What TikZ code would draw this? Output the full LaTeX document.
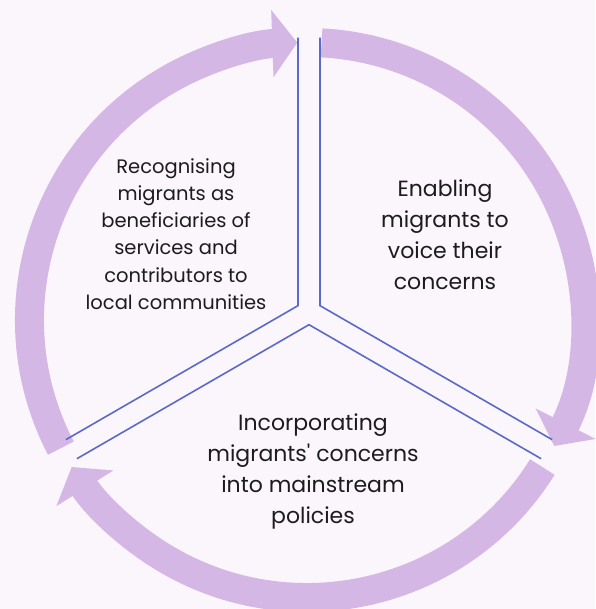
\documentclass[tikz,border=0pt]{standalone}
\usepackage{fontspec}
\newfontfamily\stagefont{Poppins}[Ligatures=NoCommon]
\usetikzlibrary{arrows.meta,calc}
\definecolor{bgpink}{HTML}{FBF5FC}
\definecolor{lilac}{HTML}{D4B7E5}
\definecolor{divblue}{HTML}{5A6AC8}
\definecolor{inkgrey}{HTML}{1C1C1C}

\begin{document}
\begin{tikzpicture}[x=1pt,y=1pt,
    ring/.style={line width=29pt,lilac},
    ringtip/.style={-{Triangle[width=66pt,length=25pt]}},
    divider/.style={divblue,line width=1.6pt,line join=miter},
    stagetext/.style={align=center,text=inkgrey,inner sep=0pt}]
  \fill[bgpink] (0,0) rectangle (595,609);
  \useasboundingbox (0,0) rectangle (595,609);
  \coordinate (O) at (307,289);
  \coordinate (Y) at (309,297);

  % cycle arrows
  \draw[ring,ringtip] ($(O)+(207.5:277.5)$) arc[start angle=207.5,end angle=92,radius=277.5];
  \draw[ring,ringtip] ($(O)+(87:277.5)$) arc[start angle=87,end angle=-27,radius=277.5];
  \draw[ring,ringtip] ($(O)+(-32:277.5)$) arc[start angle=-32,end angle=-148,radius=277.5];

  % split into three sectors
  \foreach \a in {30,150,270} {
      \coordinate (c\a) at ($(Y)+(\a:12.7)$);
      \draw[divider] ($(c\a)+(\a+60:268)$) -- (c\a) -- ($(c\a)+(\a-60:268)$);
  }

  \node[stagetext,font=\stagefont\fontsize{19.5}{27.2}\selectfont] (recognise) at (176,375)
    {Recognising\\migrants as\\beneficiaries of\\services and\\contributors to\\local communities};
  \node[stagetext,font=\stagefont\fontsize{22}{31}\selectfont] (voice) at (445,374)
    {Enabling\\migrants to\\voice their\\concerns};
  \node[stagetext,font=\stagefont\fontsize{22}{31}\selectfont] (policy) at (313,138)
    {Incorporating\\migrants' concerns\\into mainstream\\policies};
\end{tikzpicture}
\end{document}
